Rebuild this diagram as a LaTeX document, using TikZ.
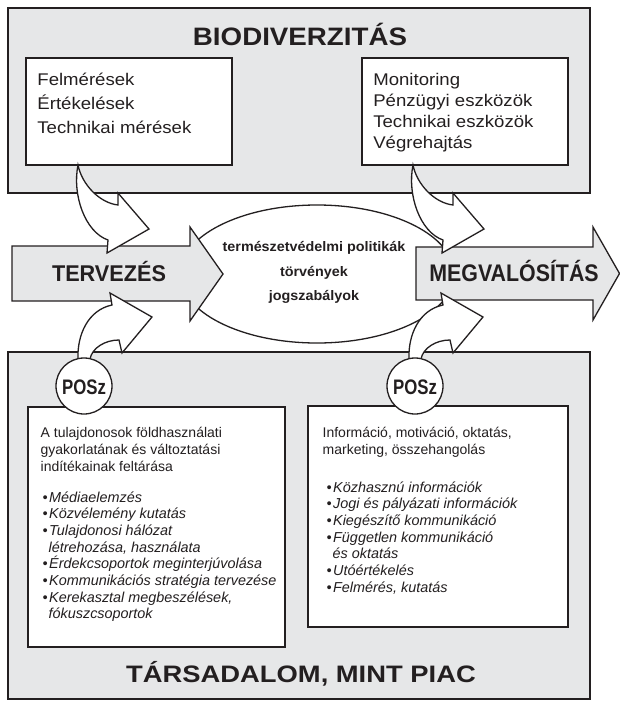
\documentclass[tikz,border=0pt]{standalone}
\usepackage{fontspec}
\setmainfont{Liberation Sans}
\definecolor{ink}{HTML}{231F20}
\definecolor{panel}{HTML}{E6E7E8}
\tikzset{
  panelbox/.style={draw=ink,fill=panel},
  whitebox/.style={draw=ink,fill=white},
  shapeline/.style={draw=ink,fill=white},
  toptext/.style={anchor=base west,inner sep=0pt,text=ink,xscale=1.1,font=\fontsize{16.9}{20}\selectfont},
  boxtext/.style={anchor=base west,inner sep=0pt,text=ink,font=\fontsize{14}{16}\selectfont},
  bultext/.style={anchor=base west,inner sep=0pt,text=ink,font=\fontsize{14.4}{16}\selectfont\itshape},
  elltext/.style={anchor=base,inner sep=0pt,text=ink,xscale=1.04,font=\fontsize{13.8}{16}\selectfont\bfseries},
  bigtitle/.style={anchor=base,inner sep=0pt,text=ink,font=\fontsize{24.7}{28}\selectfont\bfseries},
  posztext/.style={inner sep=0pt,text=ink,xscale=0.8,font=\fontsize{21}{24}\selectfont\bfseries},
  pics/bendtop/.style={code={
    \draw[shapeline] (0,0) .. controls (-6,30) and (7,67) .. (30,75) -- (29,88) -- (71,64)
      -- (40,28) -- (40,40) .. controls (22,38) and (4,20) .. cycle;
  }},
  pics/bendbottom/.style={code={
    \draw[shapeline] (0,6) -- (0,0) .. controls (-1,-24) and (10,-49) .. (34,-54) -- (32,-66)
      -- (74,-42) -- (44,-6) -- (41,-19) .. controls (27,-19) and (14,-11) .. (12,0) -- (12,6) -- cycle;
  }}
}
\newcommand{\bul}{\textbullet\hspace{1.5pt}}
\begin{document}
\begin{tikzpicture}[x=1pt,y=-1pt,line width=1.3pt,line join=miter]
\useasboundingbox (0,0) rectangle (620,705);
% panels
\draw[panelbox] (8,8) rectangle (590,193);
\draw[panelbox] (8,352) rectangle (590,699);
% top title
\node[bigtitle,xscale=1.1,font=\fontsize{25.2}{28}\selectfont\bfseries] (bio) at (300,45) {BIODIVERZITÁS};
% top white boxes
\draw[whitebox] (26,58) rectangle (232,165);
\draw[whitebox] (362,58) rectangle (568,165);
\node[toptext] (t1) at (36.7,85.5) {Felmérések};
\node[toptext] (t2) at (36.7,109.5) {Értékelések};
\node[toptext] (t3) at (36.7,133.5) {Technikai mérések};
\node[toptext] (r1) at (372.6,85.5) {Monitoring};
\node[toptext] (r2) at (372.6,106.5) {Pénzügyi eszközök};
\node[toptext] (r3) at (372.6,127.5) {Technikai eszközök};
\node[toptext] (r4) at (372.6,148.5) {Végrehajtás};
% ellipse
\draw[shapeline] (317,274) ellipse [x radius=137pt, y radius=69pt];
\node[elltext] (e1) at (314,251) {természetvédelmi politikák};
\node[elltext] (e2) at (314,276.5) {törvények};
\node[elltext] (e3) at (314,300) {jogszabályok};
% big arrows
\draw[panelbox] (12,246) -- (190,246) -- (190,227) -- (223,274) -- (190,321) -- (190,301) -- (12,301) -- cycle;
\draw[panelbox] (416,247) -- (593,247) -- (593,227) -- (619.5,273.5) -- (593,320) -- (593,300) -- (416,300) -- cycle;
\node[bigtitle,xscale=0.95,font=\fontsize{22.8}{26}\selectfont\bfseries] (terv) at (109,281) {TERVEZÉS};
\node[bigtitle,xscale=0.89,font=\fontsize{24}{26}\selectfont\bfseries] (megv) at (514,281) {MEGVALÓSÍTÁS};
% curved arrows
\pic at (78,165) {bendtop};
\pic at (413,165) {bendtop};
\pic at (78,359) {bendbottom};
\pic at (409,359) {bendbottom};
% bottom white boxes
\draw[whitebox] (28,407) rectangle (285,647);
\draw[whitebox] (308,406) rectangle (568,627);
% POSz circles
\node[draw=ink,fill=white,circle,minimum size=56pt,inner sep=0pt] (p1) at (84,386) {};
\node[draw=ink,fill=white,circle,minimum size=56pt,inner sep=0pt] (p2) at (415,386) {};
\node[posztext] (p1t) at (84,387) {POSz};
\node[posztext] (p2t) at (415,387) {POSz};
% left box text
\node[boxtext] (a1) at (40,437) {A tulajdonosok földhasználati};
\node[boxtext] (a2) at (40,454) {gyakorlatának és változtatási};
\node[boxtext] (a3) at (40,471) {indítékainak feltárása};
\node[bultext] (b1) at (42,502) {\bul Médiaelemzés};
\node[bultext] (b2) at (42,518.7) {\bul Közvélemény kutatás};
\node[bultext] (b3) at (42,535.4) {\bul Tulajdonosi hálózat};
\node[bultext] (b4) at (48,552.1) {létrehozása, használata};
\node[bultext] (b5) at (42,568.8) {\bul Érdekcsoportok meginterjúvolása};
\node[bultext] (b6) at (42,585.5) {\bul Kommunikációs stratégia tervezése};
\node[bultext] (b7) at (42,602.2) {\bul Kerekasztal megbeszélések,};
\node[bultext] (b8) at (48,618.9) {fókuszcsoportok};
% right box text
\node[boxtext] (c1) at (322,437) {Információ, motiváció, oktatás,};
\node[boxtext] (c2) at (322,454) {marketing, összehangolás};
\node[bultext] (d1) at (326,492) {\bul Közhasznú információk};
\node[bultext] (d2) at (326,508.7) {\bul Jogi és pályázati információk};
\node[bultext] (d3) at (326,525.4) {\bul Kiegészítő kommunikáció};
\node[bultext] (d4) at (326,542.1) {\bul Független kommunikáció};
\node[bultext] (d5) at (332,558.8) {és oktatás};
\node[bultext] (d6) at (326,575.5) {\bul Utóértékelés};
\node[bultext] (d7) at (326,592.2) {\bul Felmérés, kutatás};
% bottom title
\node[bigtitle,xscale=1.15,font=\fontsize{23.8}{26}\selectfont\bfseries] (tars) at (301,682) {TÁRSADALOM, MINT PIAC};
\end{tikzpicture}
\end{document}
